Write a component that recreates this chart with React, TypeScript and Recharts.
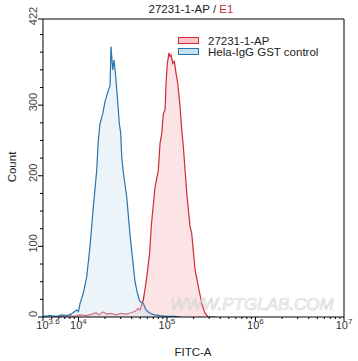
import React from 'react';
import { ComposedChart, Area, XAxis, YAxis, ReferenceLine } from 'recharts';

// Hela-IgG GST control (blue), FITC-A bin -> event count
const controlFitc = [3981, 4777, 5731, 6526, 7432, 8249, 8920, 9568, 10030, 10420, 11360, 12410, 13520, 14740, 16100, 16790, 17540, 18820, 19980, 21770, 22760, 23360, 24410, 25250, 26390, 27510, 28990, 30060, 30850, 32160, 35140, 38300, 41730, 43610, 46300, 48770, 50970, 54120, 58040, 61640, 67850, 73370, 83560, 99470, 123500, 140600];
const controlCount = [1, 2, 1, 3, 2, 4, 7, 10, 8, 19, 34, 57, 100, 156, 208, 251, 274, 288, 305, 321, 328, 383, 350, 364, 340, 312, 274, 260, 227, 205, 170, 116, 72, 50, 34, 24, 21, 19, 10, 7, 4, 3, 2, 1, 1, 0];

// 27231-1-AP (red)
const antibodyFitc = [5440, 6526, 7628, 8920, 10420, 12190, 14250, 15810, 17090, 18970, 21050, 23360, 26600, 30300, 34510, 39300, 43610, 47150, 49660, 54120, 58500, 63750, 66640, 73370, 79960, 83560, 87360, 91060, 95170, 97680, 101000, 105600, 108400, 111300, 116300, 121200, 126700, 132400, 140600, 147000, 153200, 160200, 167400, 182400, 190600, 207700, 226300, 247400, 269500, 293700, 349600];
const antibodyCount = [0, 1, 2, 1, 3, 2, 4, 6, 3, 7, 4, 5, 3, 5, 4, 6, 8, 12, 10, 24, 52, 90, 130, 184, 208, 246, 260, 288, 293, 331, 359, 374, 369, 371, 359, 362, 345, 331, 298, 265, 241, 208, 175, 128, 118, 67, 43, 19, 5, 0, 0];

const xTicks = [3981.07, 5000, 6000, 7000, 8000, 9000, 10000, 20000, 30000, 40000, 50000, 60000, 70000, 80000, 90000, 100000, 200000, 300000, 400000, 500000, 600000, 700000, 800000, 900000, 1000000, 2000000, 3000000, 4000000, 5000000, 6000000, 7000000, 8000000, 9000000, 10000000];
const decadeValues = [3981.07, 10000, 100000, 1000000, 10000000];
const decadeExponents = ['3.6', '4', '5', '6', '7'];

const yTicks = [0, 25, 50, 75, 100, 125, 150, 175, 200, 225, 250, 275, 300, 325, 350, 375, 400, 422];
const yLabelTicks = [0, 100, 200, 300, 422];

const FONT = '"Liberation Sans", Arial, sans-serif';
const RED = '#d02a35';
const BLUE = '#2a74ad';

const rows = [
  ...antibodyFitc.map((x, i) => ({ x, antibody: antibodyCount[i] })),
  ...controlFitc.map((x, i) => ({ x, control: controlCount[i] })),
].sort((a, b) => a.x - b.x);

const legendItems = [
  { name: '27231-1-AP', stroke: RED, fill: '#f8c4c9' },
  { name: 'Hela-IgG GST control', stroke: BLUE, fill: '#c9e0f1' },
];

const XTick = (props: any) => {
  const { x, y, payload } = props;
  const idx = decadeValues.indexOf(payload.value);
  const major = idx >= 0;
  return (
    <g>
      <line x1={x} x2={x} y1={y} y2={y + (major ? 4 : 2)} stroke="#000" />
      {major && (
        <text x={x} y={y + 12} dx={idx === 0 ? 5 : 0} textAnchor="middle" fontSize={11} fill="#333" fontFamily={FONT}>
          10
          <tspan fontSize={8} dy={-5}>{decadeExponents[idx]}</tspan>
        </text>
      )}
    </g>
  );
};

const YTick = (props: any) => {
  const { x, y, payload } = props;
  const major = yLabelTicks.includes(payload.value);
  const lx = x - 6;
  const ly = y - 3;
  return (
    <g>
      <line x1={x} x2={x - (major ? 5 : 3)} y1={y} y2={y} stroke="#000" />
      {major && (
        <text x={lx} y={ly} transform={`rotate(-90 ${lx} ${ly})`} textAnchor="middle" fontSize={11} fill="#444" fontFamily={FONT}>
          {payload.value}
        </text>
      )}
    </g>
  );
};

export default function App() {
  return (
    <div style={{ position: 'absolute', left: 0, top: 0, width: 358, height: 361, background: '#fff' }}>
      <ComposedChart width={358} height={361} data={rows} margin={{ top: 19, right: 14, bottom: 0, left: 0 }}>
        <XAxis
          dataKey="x"
          type="number"
          scale="log"
          domain={[3981.07, 10000000]}
          allowDataOverflow
          ticks={xTicks}
          interval={0}
          height={44}
          tickSize={0}
          tickMargin={0}
          tickLine={false}
          tick={<XTick />}
          axisLine={{ stroke: '#000' }}
        />
        <YAxis
          type="number"
          domain={[0, 422]}
          allowDataOverflow
          ticks={yTicks}
          interval={0}
          width={43}
          tickSize={0}
          tickMargin={0}
          tickLine={false}
          tick={<YTick />}
          axisLine={{ stroke: '#000' }}
        />
        <ReferenceLine y={422} stroke="#000" />
        <ReferenceLine x={10000000} stroke="#000" />
        <Area
          type="linear"
          dataKey="antibody"
          name="27231-1-AP"
          stroke={RED}
          strokeWidth={1.2}
          fill="#f9c8cd"
          fillOpacity={0.5}
          connectNulls
          dot={false}
          activeDot={false}
          isAnimationActive={false}
        />
        <Area
          type="linear"
          dataKey="control"
          name="Hela-IgG GST control"
          stroke={BLUE}
          strokeWidth={1.2}
          fill="#cfe3f2"
          fillOpacity={0.4}
          connectNulls
          dot={false}
          activeDot={false}
          isAnimationActive={false}
        />
      </ComposedChart>
      <svg width={358} height={361} style={{ position: 'absolute', left: 0, top: 0, pointerEvents: 'none' }}>
        <text x={191} y={13} textAnchor="middle" fontSize={11.5} fontFamily={FONT} fill="#222">
          27231-1-AP / <tspan fill="#c8303c">E1</tspan>
        </text>
        <text x={16} y={167} transform="rotate(-90 16 167)" textAnchor="middle" fontSize={11.5} fontFamily={FONT} fill="#222">
          Count
        </text>
        <text x={193} y={356} textAnchor="middle" fontSize={11.5} fontFamily={FONT} fill="#222">
          FITC-A
        </text>
        <text x={170} y={310} fontSize={17} fontStyle="italic" fontFamily={FONT} fill="none" stroke="#d6d6d6" strokeWidth={0.7}>
          WWW.PTGLAB.COM
        </text>
        {legendItems.map((item, i) => (
          <g key={item.name}>
            <rect x={178.5} y={37.5 + i * 11} width={20} height={6} fill={item.fill} stroke={item.stroke} />
            <text x={208} y={44.5 + i * 11} fontSize={11.5} fontFamily={FONT} fill="#222">
              {item.name}
            </text>
          </g>
        ))}
      </svg>
    </div>
  );
}
